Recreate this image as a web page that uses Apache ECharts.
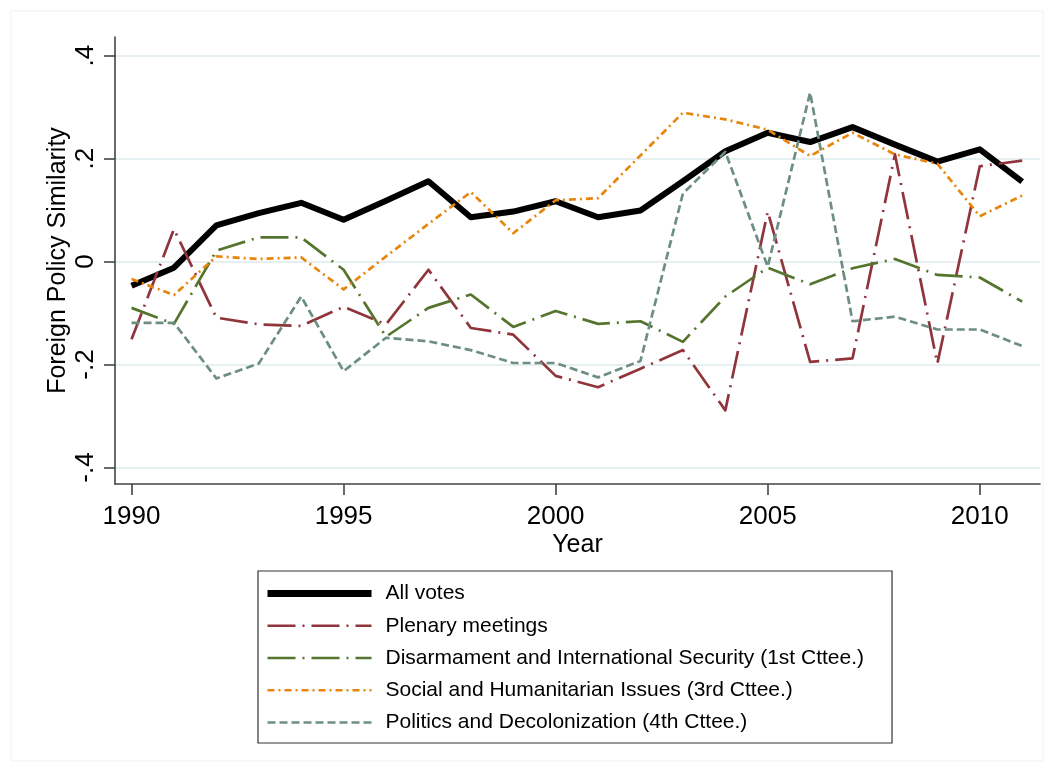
<!DOCTYPE html>
<html>
<head>
<meta charset="utf-8">
<script src="https://cdn.jsdelivr.net/npm/echarts@6/dist/echarts.min.js"></script>
<style>
html,body{margin:0;padding:0;background:#fff;}
#chart{width:1054px;height:772px;}
</style>
</head>
<body>
<div id="chart"></div>
<script>
var years = [1990,1991,1992,1993,1994,1995,1996,1997,1998,1999,2000,2001,2002,2003,2004,2005,2006,2007,2008,2009,2010,2011];
var allVotes  = [-0.047,-0.012,0.070,0.094,0.114,0.081,0.118,0.156,0.086,0.097,0.117,0.086,0.099,0.156,0.214,0.250,0.232,0.261,0.227,0.194,0.218,0.155];
var plenary   = [-0.151,0.063,-0.109,-0.122,-0.125,-0.088,-0.122,-0.016,-0.129,-0.142,-0.222,-0.244,-0.208,-0.172,-0.289,0.097,-0.195,-0.188,0.208,-0.198,0.185,0.196];
var disarm    = [-0.090,-0.121,0.021,0.047,0.047,-0.016,-0.146,-0.090,-0.064,-0.127,-0.096,-0.121,-0.116,-0.156,-0.068,-0.012,-0.044,-0.013,0.005,-0.026,-0.031,-0.078];
var social    = [-0.034,-0.065,0.010,0.005,0.008,-0.054,0.010,0.073,0.135,0.055,0.119,0.123,0.206,0.289,0.276,0.256,0.205,0.250,0.208,0.190,0.088,0.128];
var politics  = [-0.119,-0.119,-0.227,-0.198,-0.068,-0.213,-0.148,-0.155,-0.172,-0.197,-0.197,-0.225,-0.193,0.132,0.213,-0.010,0.328,-0.116,-0.107,-0.132,-0.132,-0.164];
var seriesNames = ['All votes','Plenary meetings','Disarmament and International Security (1st Cttee.)','Social and Humanitarian Issues (3rd Cttee.)','Politics and Decolonization (4th Cttee.)'];
var xTicks = [1990,1995,2000,2005,2010];
var yTicks = [-0.4,-0.2,0,0.2,0.4];

function pairs(vals){ return years.map(function(y,i){ return [y, vals[i]]; }); }
function fmtY(v){
  if (Math.abs(v) < 1e-9) return '0';
  var s = Math.abs(v).toFixed(1).replace(/^0/, '');
  return (v < 0 ? '-' : '') + s;
}

var styles = [
  {color:'#000000', width:6, type:'solid'},
  {color:'#90353B', width:2.7, type:[28,7,2,7]},
  {color:'#55752F', width:2.7, type:[28,7,2,7]},
  {color:'#E8850C', width:2.7, type:[7,4,2,4]},
  {color:'#6E8E84', width:2.7, type:[8,4]}
];
var dataSets = [allVotes, plenary, disarm, social, politics];

var chart = echarts.init(document.getElementById('chart'), null, {renderer:'canvas'});
var axisFont = 'Liberation Sans, Arial, sans-serif';
var option = {
  backgroundColor:'#ffffff',
  animation:false,
  graphic:[{
    type:'rect', silent:true, z:-10,
    shape:{x:11, y:11, width:1032, height:750},
    style:{fill:'none', stroke:'#EDF2F3', lineWidth:1}
  }],
  grid:{left:115, right:14, top:37, bottom:288, containLabel:false},
  xAxis:{
    type:'value', min:1989.61, max:2011.42,
    name:'Year', nameLocation:'middle', nameGap:49, nameMoveOverlap:false,
    nameTextStyle:{fontFamily:axisFont, fontSize:25, color:'#000'},
    axisLine:{show:true, onZero:false, lineStyle:{color:'#444', width:1.6}},
    axisTick:{show:true, length:11, inside:false, customValues:xTicks, lineStyle:{color:'#444', width:1.6}},
    axisLabel:{customValues:xTicks, fontFamily:axisFont, fontSize:26, color:'#000', margin:20,
      formatter:function(v){return String(Math.round(v));}},
    splitLine:{show:false}
  },
  yAxis:{
    type:'value', min:-0.432, max:0.436,
    name:'Foreign Policy Similarity', nameLocation:'middle', nameGap:44, nameRotate:90, nameMoveOverlap:false,
    nameTextStyle:{fontFamily:axisFont, fontSize:25, color:'#000'},
    axisLine:{show:true, onZero:false, lineStyle:{color:'#444', width:1.6}},
    axisTick:{show:true, length:11, inside:false, customValues:yTicks, lineStyle:{color:'#444', width:1.6}},
    axisLabel:{customValues:yTicks, rotate:90, fontFamily:axisFont, fontSize:26, color:'#000', margin:16,
      formatter:fmtY},
    splitLine:{show:true, lineStyle:{color:'#E6EFF1', width:2}}
  },
  legend:{
    show:true,
    orient:'vertical', left:258, top:571,
    itemWidth:104, itemHeight:21, itemGap:11.25,
    padding:[12,28,10,6],
    borderColor:'#333', borderWidth:1.2, backgroundColor:'#fff',
    textStyle:{fontFamily:axisFont, fontSize:21, color:'#000', padding:[0,0,0,9]},
    itemStyle:{color:'rgba(0,0,0,0)', borderWidth:0, opacity:0},
    data: seriesNames.map(function(n,i){
      return {name:n, itemStyle:{color:'rgba(0,0,0,0)', borderWidth:0, opacity:0},
        lineStyle:{width:(i===0?7:styles[i].width)}};
    }),
    selectedMode:false
  },
  series: dataSets.map(function(d,i){
    return {
      name:seriesNames[i], type:'line', data:pairs(d),
      symbol:'none', showSymbol:false, smooth:false, z: (i===0?2:3),
      lineStyle:{color:styles[i].color, width:styles[i].width, type:styles[i].type, cap:'butt', join:'round'},
      itemStyle:{color:styles[i].color}
    };
  })
};
chart.setOption(option);
</script>
</body>
</html>
